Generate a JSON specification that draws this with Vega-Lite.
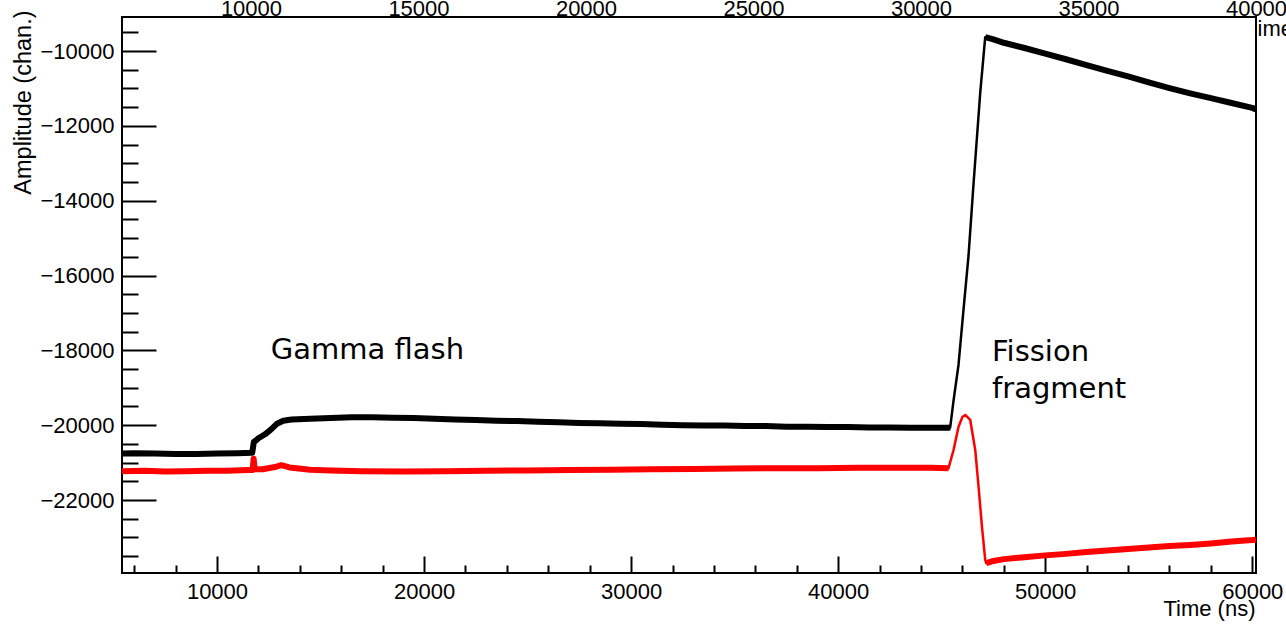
{
  "$schema": "https://vega.github.io/schema/vega-lite/v6.json",
  "width": 1134,
  "height": 556,
  "autosize": {"type": "none"},
  "padding": {"left": 122, "top": 17, "right": 30, "bottom": 52},
  "background": "white",
  "config": {
    "view": {"stroke": "black", "strokeWidth": 2},
    "axis": {
      "grid": false,
      "domain": false,
      "labelFont": "Liberation Sans",
      "titleFont": "Liberation Sans",
      "labelColor": "black",
      "titleColor": "black",
      "labelFontSize": 22,
      "titleFontSize": 22,
      "titleFontWeight": "normal",
      "tickColor": "black",
      "tickWidth": 2,
      "labelFlush": false,
      "labelOverlap": false,
      "labelBound": false
    }
  },
  "datasets": {
    "traces": [
      {"trace": "trace 1", "phase": "baseline", "t": 5412, "amp": -20760},
      {"trace": "trace 1", "phase": "baseline", "t": 6000, "amp": -20750},
      {"trace": "trace 1", "phase": "baseline", "t": 7000, "amp": -20760},
      {"trace": "trace 1", "phase": "baseline", "t": 8000, "amp": -20770},
      {"trace": "trace 1", "phase": "baseline", "t": 9000, "amp": -20770},
      {"trace": "trace 1", "phase": "baseline", "t": 10000, "amp": -20760},
      {"trace": "trace 1", "phase": "baseline", "t": 11000, "amp": -20750},
      {"trace": "trace 1", "phase": "baseline", "t": 11700, "amp": -20740},
      {"trace": "trace 1", "phase": "baseline", "t": 11780, "amp": -20450},
      {"trace": "trace 1", "phase": "baseline", "t": 11900, "amp": -20400},
      {"trace": "trace 1", "phase": "baseline", "t": 12000, "amp": -20350},
      {"trace": "trace 1", "phase": "baseline", "t": 12300, "amp": -20250},
      {"trace": "trace 1", "phase": "baseline", "t": 12600, "amp": -20120},
      {"trace": "trace 1", "phase": "baseline", "t": 12900, "amp": -19960},
      {"trace": "trace 1", "phase": "baseline", "t": 13200, "amp": -19880},
      {"trace": "trace 1", "phase": "baseline", "t": 13600, "amp": -19850},
      {"trace": "trace 1", "phase": "baseline", "t": 14500, "amp": -19830},
      {"trace": "trace 1", "phase": "baseline", "t": 15500, "amp": -19810},
      {"trace": "trace 1", "phase": "baseline", "t": 16500, "amp": -19790},
      {"trace": "trace 1", "phase": "baseline", "t": 17500, "amp": -19790},
      {"trace": "trace 1", "phase": "baseline", "t": 18500, "amp": -19800},
      {"trace": "trace 1", "phase": "baseline", "t": 19500, "amp": -19810},
      {"trace": "trace 1", "phase": "baseline", "t": 20500, "amp": -19830},
      {"trace": "trace 1", "phase": "baseline", "t": 21500, "amp": -19850},
      {"trace": "trace 1", "phase": "baseline", "t": 22500, "amp": -19860},
      {"trace": "trace 1", "phase": "baseline", "t": 23500, "amp": -19880},
      {"trace": "trace 1", "phase": "baseline", "t": 24500, "amp": -19890},
      {"trace": "trace 1", "phase": "baseline", "t": 25500, "amp": -19910},
      {"trace": "trace 1", "phase": "baseline", "t": 26500, "amp": -19920},
      {"trace": "trace 1", "phase": "baseline", "t": 27500, "amp": -19940},
      {"trace": "trace 1", "phase": "baseline", "t": 28500, "amp": -19950},
      {"trace": "trace 1", "phase": "baseline", "t": 29500, "amp": -19960},
      {"trace": "trace 1", "phase": "baseline", "t": 30500, "amp": -19970},
      {"trace": "trace 1", "phase": "baseline", "t": 31500, "amp": -19990},
      {"trace": "trace 1", "phase": "baseline", "t": 32500, "amp": -20000},
      {"trace": "trace 1", "phase": "baseline", "t": 33500, "amp": -20010},
      {"trace": "trace 1", "phase": "baseline", "t": 34500, "amp": -20010},
      {"trace": "trace 1", "phase": "baseline", "t": 35500, "amp": -20020},
      {"trace": "trace 1", "phase": "baseline", "t": 36500, "amp": -20020},
      {"trace": "trace 1", "phase": "baseline", "t": 37500, "amp": -20040},
      {"trace": "trace 1", "phase": "baseline", "t": 38500, "amp": -20040},
      {"trace": "trace 1", "phase": "baseline", "t": 39500, "amp": -20050},
      {"trace": "trace 1", "phase": "baseline", "t": 40500, "amp": -20050},
      {"trace": "trace 1", "phase": "baseline", "t": 41500, "amp": -20060},
      {"trace": "trace 1", "phase": "baseline", "t": 42500, "amp": -20060},
      {"trace": "trace 1", "phase": "baseline", "t": 43500, "amp": -20070},
      {"trace": "trace 1", "phase": "baseline", "t": 44500, "amp": -20070},
      {"trace": "trace 1", "phase": "baseline", "t": 45300, "amp": -20070},
      {"trace": "trace 1", "phase": "baseline", "t": 45411, "amp": -20060},
      {"trace": "trace 1", "phase": "edge", "t": 45570, "amp": -19353},
      {"trace": "trace 1", "phase": "edge", "t": 45812, "amp": -18391},
      {"trace": "trace 1", "phase": "edge", "t": 46053, "amp": -16921},
      {"trace": "trace 1", "phase": "edge", "t": 46295, "amp": -15478},
      {"trace": "trace 1", "phase": "edge", "t": 46537, "amp": -13554},
      {"trace": "trace 1", "phase": "edge", "t": 46860, "amp": -11122},
      {"trace": "trace 1", "phase": "tail", "t": 47102, "amp": -9630},
      {"trace": "trace 1", "phase": "tail", "t": 47500, "amp": -9690},
      {"trace": "trace 1", "phase": "tail", "t": 48000, "amp": -9780},
      {"trace": "trace 1", "phase": "tail", "t": 49000, "amp": -9920},
      {"trace": "trace 1", "phase": "tail", "t": 50000, "amp": -10070},
      {"trace": "trace 1", "phase": "tail", "t": 51000, "amp": -10220},
      {"trace": "trace 1", "phase": "tail", "t": 52000, "amp": -10380},
      {"trace": "trace 1", "phase": "tail", "t": 53000, "amp": -10530},
      {"trace": "trace 1", "phase": "tail", "t": 54000, "amp": -10680},
      {"trace": "trace 1", "phase": "tail", "t": 55000, "amp": -10840},
      {"trace": "trace 1", "phase": "tail", "t": 56000, "amp": -10990},
      {"trace": "trace 1", "phase": "tail", "t": 57000, "amp": -11130},
      {"trace": "trace 1", "phase": "tail", "t": 58000, "amp": -11260},
      {"trace": "trace 1", "phase": "tail", "t": 59000, "amp": -11390},
      {"trace": "trace 1", "phase": "tail", "t": 60000, "amp": -11520},
      {"trace": "trace 1", "phase": "tail", "t": 60180, "amp": -11560},
      {"trace": "trace 2", "phase": "baseline", "t": 5412, "amp": -21230},
      {"trace": "trace 2", "phase": "baseline", "t": 6500, "amp": -21220},
      {"trace": "trace 2", "phase": "baseline", "t": 7500, "amp": -21240},
      {"trace": "trace 2", "phase": "baseline", "t": 8500, "amp": -21230},
      {"trace": "trace 2", "phase": "baseline", "t": 9500, "amp": -21220},
      {"trace": "trace 2", "phase": "baseline", "t": 10500, "amp": -21220},
      {"trace": "trace 2", "phase": "baseline", "t": 11500, "amp": -21200},
      {"trace": "trace 2", "phase": "baseline", "t": 11720, "amp": -21200},
      {"trace": "trace 2", "phase": "baseline", "t": 11770, "amp": -20900},
      {"trace": "trace 2", "phase": "baseline", "t": 11820, "amp": -21180},
      {"trace": "trace 2", "phase": "baseline", "t": 12200, "amp": -21180},
      {"trace": "trace 2", "phase": "baseline", "t": 12800, "amp": -21120},
      {"trace": "trace 2", "phase": "baseline", "t": 13100, "amp": -21070},
      {"trace": "trace 2", "phase": "baseline", "t": 13500, "amp": -21130},
      {"trace": "trace 2", "phase": "baseline", "t": 14500, "amp": -21190},
      {"trace": "trace 2", "phase": "baseline", "t": 15500, "amp": -21210},
      {"trace": "trace 2", "phase": "baseline", "t": 17000, "amp": -21230},
      {"trace": "trace 2", "phase": "baseline", "t": 19000, "amp": -21240},
      {"trace": "trace 2", "phase": "baseline", "t": 21000, "amp": -21230},
      {"trace": "trace 2", "phase": "baseline", "t": 23000, "amp": -21220},
      {"trace": "trace 2", "phase": "baseline", "t": 25000, "amp": -21210},
      {"trace": "trace 2", "phase": "baseline", "t": 27000, "amp": -21200},
      {"trace": "trace 2", "phase": "baseline", "t": 29000, "amp": -21190},
      {"trace": "trace 2", "phase": "baseline", "t": 31000, "amp": -21180},
      {"trace": "trace 2", "phase": "baseline", "t": 33000, "amp": -21170},
      {"trace": "trace 2", "phase": "baseline", "t": 35000, "amp": -21160},
      {"trace": "trace 2", "phase": "baseline", "t": 37000, "amp": -21150},
      {"trace": "trace 2", "phase": "baseline", "t": 39000, "amp": -21150},
      {"trace": "trace 2", "phase": "baseline", "t": 41000, "amp": -21140},
      {"trace": "trace 2", "phase": "baseline", "t": 43000, "amp": -21140},
      {"trace": "trace 2", "phase": "baseline", "t": 44500, "amp": -21140},
      {"trace": "trace 2", "phase": "baseline", "t": 45331, "amp": -21150},
      {"trace": "trace 2", "phase": "edge", "t": 45572, "amp": -20663},
      {"trace": "trace 2", "phase": "edge", "t": 45814, "amp": -20040},
      {"trace": "trace 2", "phase": "edge", "t": 46000, "amp": -19780},
      {"trace": "trace 2", "phase": "edge", "t": 46137, "amp": -19727},
      {"trace": "trace 2", "phase": "edge", "t": 46379, "amp": -19861},
      {"trace": "trace 2", "phase": "edge", "t": 46620, "amp": -20663},
      {"trace": "trace 2", "phase": "edge", "t": 46780, "amp": -21644},
      {"trace": "trace 2", "phase": "edge", "t": 46944, "amp": -22713},
      {"trace": "trace 2", "phase": "edge", "t": 47103, "amp": -23602},
      {"trace": "trace 2", "phase": "tail", "t": 47151, "amp": -23690},
      {"trace": "trace 2", "phase": "tail", "t": 47500, "amp": -23630},
      {"trace": "trace 2", "phase": "tail", "t": 48000, "amp": -23580},
      {"trace": "trace 2", "phase": "tail", "t": 49000, "amp": -23530},
      {"trace": "trace 2", "phase": "tail", "t": 50000, "amp": -23480},
      {"trace": "trace 2", "phase": "tail", "t": 51000, "amp": -23440},
      {"trace": "trace 2", "phase": "tail", "t": 52000, "amp": -23390},
      {"trace": "trace 2", "phase": "tail", "t": 53000, "amp": -23350},
      {"trace": "trace 2", "phase": "tail", "t": 54000, "amp": -23310},
      {"trace": "trace 2", "phase": "tail", "t": 55000, "amp": -23270},
      {"trace": "trace 2", "phase": "tail", "t": 56000, "amp": -23230},
      {"trace": "trace 2", "phase": "tail", "t": 57000, "amp": -23200},
      {"trace": "trace 2", "phase": "tail", "t": 58000, "amp": -23160},
      {"trace": "trace 2", "phase": "tail", "t": 59000, "amp": -23110},
      {"trace": "trace 2", "phase": "tail", "t": 60000, "amp": -23070},
      {"trace": "trace 2", "phase": "tail", "t": 60180, "amp": -23060}
    ],
    "notes": [
      {"label": "Gamma flash", "t": 12600, "amp": -17990},
      {"label": "Fission", "t": 47430, "amp": -18044},
      {"label": "fragment", "t": 47430, "amp": -19033}
    ]
  },
  "layer": [
    {
      "data": {"name": "traces"},
      "mark": {"type": "line", "strokeWidth": 2.5, "strokeJoin": "round"},
      "encoding": {
        "x": {
          "field": "t", "type": "quantitative",
          "scale": {"domain": [5412, 60180], "nice": false, "zero": false},
          "axis": {
            "orient": "bottom", "values": [10000, 20000, 30000, 40000, 50000, 60000],
            "format": "d", "ticks": false, "labelPadding": 8,
            "title": "Time (ns)", "titleX": 1133, "titleY": 42,
            "titleAlign": "right", "titleBaseline": "alphabetic"
          }
        },
        "y": {
          "field": "amp", "type": "quantitative",
          "scale": {"domain": [-23951, -9091], "nice": false, "zero": false},
          "axis": {
            "orient": "left", "values": [-10000, -12000, -14000, -16000, -18000, -20000, -22000],
            "format": "d", "ticks": false, "labelPadding": 8,
            "title": "Amplitude (chan.)", "titleX": -92, "titleY": -7, "titleFontSize": 23.5,
            "titleAngle": 270, "titleAlign": "right", "titleBaseline": "alphabetic"
          }
        },
        "color": {
          "field": "trace", "type": "nominal",
          "scale": {"domain": ["trace 1", "trace 2"], "range": ["#000000", "#ff0000"]},
          "legend": null
        }
      }
    },
    {
      "data": {"name": "traces"},
      "transform": [{"filter": "datum.phase !== 'edge'"}],
      "mark": {"type": "line", "strokeWidth": 6, "strokeJoin": "round"},
      "encoding": {
        "x": {
          "field": "t", "type": "quantitative",
          "scale": {"domain": [5412, 60180], "nice": false, "zero": false},
          "axis": {
            "orient": "bottom", "values": [10000, 20000, 30000, 40000, 50000, 60000],
            "labels": false, "ticks": true, "tickSize": -17, "title": null
          }
        },
        "y": {
          "field": "amp", "type": "quantitative",
          "scale": {"domain": [-23951, -9091], "nice": false, "zero": false},
          "axis": {
            "orient": "left", "values": [-10000, -12000, -14000, -16000, -18000, -20000, -22000],
            "labels": false, "ticks": true, "tickSize": -34, "title": null
          }
        },
        "color": {
          "field": "trace", "type": "nominal",
          "scale": {"domain": ["trace 1", "trace 2"], "range": ["#000000", "#ff0000"]},
          "legend": null
        },
        "detail": {"field": "phase", "type": "nominal"}
      }
    },
    {
      "data": {"name": "notes"},
      "mark": {"type": "text", "font": "DejaVu Sans", "fontSize": 29, "align": "left", "baseline": "middle", "color": "black"},
      "encoding": {
        "x": {
          "field": "t", "type": "quantitative",
          "scale": {"domain": [5412, 60180], "nice": false, "zero": false},
          "axis": {
            "orient": "bottom",
            "values": [6000, 8000, 12000, 14000, 16000, 18000, 22000, 24000, 26000, 28000, 32000, 34000, 36000, 38000, 42000, 44000, 46000, 48000, 52000, 54000, 56000, 58000],
            "labels": false, "ticks": true, "tickSize": -8, "title": null
          }
        },
        "y": {
          "field": "amp", "type": "quantitative",
          "scale": {"domain": [-23951, -9091], "nice": false, "zero": false},
          "axis": {
            "orient": "left",
            "values": [-9500, -10500, -11000, -11500, -12500, -13000, -13500, -14500, -15000, -15500, -16500, -17000, -17500, -18500, -19000, -19500, -20500, -21000, -21500, -22500, -23000, -23500],
            "labels": false, "ticks": true, "tickSize": -16, "title": null
          }
        },
        "text": {"field": "label", "type": "nominal"}
      }
    },
    {
      "data": {"name": "notes"},
      "mark": {"type": "point", "opacity": 0},
      "encoding": {
        "x": {
          "field": "t", "type": "quantitative",
          "scale": {"domain": [6150, 40000], "nice": false, "zero": false},
          "axis": {
            "orient": "top", "values": [10000, 15000, 20000, 25000, 30000, 35000, 40000],
            "format": "d", "ticks": false, "labelPadding": 2, "labelBaseline": "alphabetic",
            "title": "ime", "titleX": 1135, "titleY": 18, "titleAlign": "left",
            "titleBaseline": "alphabetic", "titleAngle": 0
          }
        }
      }
    }
  ],
  "resolve": {
    "scale": {"x": "independent", "y": "independent"},
    "axis": {"x": "independent", "y": "independent"}
  }
}
